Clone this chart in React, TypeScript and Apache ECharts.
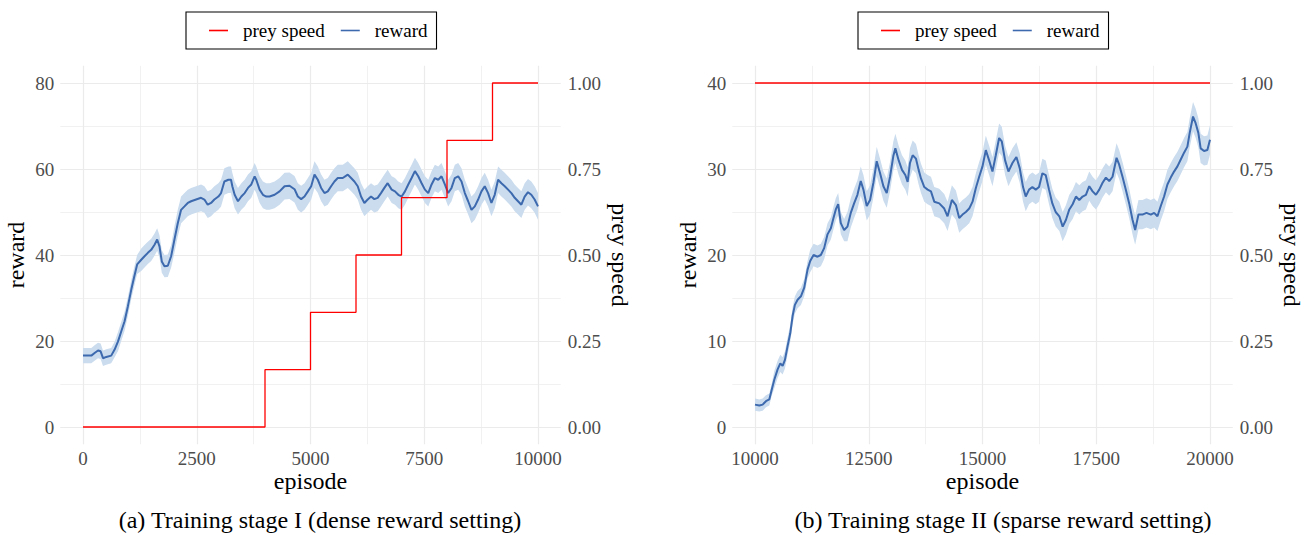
import React, { useEffect, useRef } from "react";
import * as echarts from "echarts";

// ---------- data: stage I (dense reward) ----------
const stage1Episodes = [
  0, 183, 255, 330, 387, 440, 512, 620, 695, 770, 840, 914, 987, 1060, 1118, 1190, 1280, 1352, 1425, 1499,
  1572, 1630, 1681, 1732, 1791, 1864, 1937, 2010, 2083, 2156, 2230, 2303, 2376, 2485, 2595, 2668, 2741, 2814,
  2887, 2975, 3034, 3107, 3195, 3253, 3282, 3333, 3406, 3480, 3553, 3626, 3699, 3772, 3808, 3882, 3955, 4028,
  4101, 4211, 4320, 4430, 4539, 4649, 4722, 4795, 4868, 4942, 5015, 5088, 5161, 5234, 5307, 5380, 5453, 5526,
  5599, 5709, 5819, 5892, 5965, 6038, 6111, 6184, 6257, 6330, 6403, 6476, 6549, 6623, 6696, 6784, 6857, 6930,
  7003, 7076, 7149, 7222, 7295, 7368, 7442, 7515, 7588, 7661, 7734, 7807, 7880, 7953, 8026, 8099, 8172, 8246,
  8319, 8392, 8465, 8538, 8611, 8684, 8757, 8830, 8903, 8976, 9049, 9123, 9196, 9269, 9342, 9415, 9488, 9561,
  9634, 9707, 9780, 9853, 9926, 10000,
];
const stage1Reward = [
  16.6, 16.6, 17.2, 17.8, 17.6, 16.0, 16.3, 16.6, 18.0, 19.9, 22.2, 24.6, 28.1, 31.9, 34.6, 37.8, 38.9, 39.7, 40.5, 41.2,
  42.4, 43.6, 42.0, 38.5, 37.4, 37.5, 39.7, 43.6, 47.4, 50.5, 51.3, 52.1, 52.5, 52.9, 53.3, 52.9, 51.7, 52.1,
  52.9, 53.6, 54.4, 57.1, 57.5, 57.5, 56.0, 54.0, 52.5, 53.6, 54.4, 55.6, 56.4, 58.3, 57.5, 55.2, 54.0, 53.6,
  53.6, 54.0, 54.8, 56.0, 56.1, 55.3, 53.6, 53.0, 53.6, 54.8, 56.0, 58.7, 57.5, 55.6, 54.4, 54.8, 56.0, 57.1,
  57.9, 57.9, 58.7, 57.9, 57.1, 56.0, 53.6, 52.1, 52.9, 53.6, 53.0, 53.3, 54.4, 55.6, 56.7, 55.2, 54.8, 54.0,
  53.6, 54.8, 56.4, 57.9, 59.5, 58.3, 56.7, 55.2, 54.4, 56.4, 57.9, 57.5, 58.3, 56.4, 54.4, 55.6, 57.9, 58.3,
  57.1, 54.4, 52.5, 50.5, 51.3, 52.9, 54.8, 56.0, 54.4, 52.1, 54.0, 57.5, 56.7, 56.0, 55.2, 54.4, 53.3, 52.5,
  51.7, 53.6, 54.6, 54.0, 52.9, 51.3,
];
// [episode from which it applies, half-width of the band]
const stage1Band = [
  [0, 1.8],
  [700, 2.2],
  [1200, 2.6],
  [2000, 3.1],
];
const stage1SpeedEpisodes = [0, 4000, 5000, 6000, 7000, 8000, 9000, 10000];
const stage1Speed = [0, 0.1667, 0.3333, 0.5, 0.6667, 0.8333, 1.0, 1.0];

// ---------- data: stage II (sparse reward) ----------
const stage2Episodes = [
  10000, 10095, 10168, 10241, 10314, 10366, 10424, 10497, 10556, 10607, 10658, 10716, 10775, 10826, 10877, 10936,
  11009, 11082, 11155, 11213, 11287, 11374, 11447, 11520, 11594, 11667, 11725, 11776, 11828, 11886, 11959, 12032,
  12105, 12178, 12251, 12324, 12383, 12456, 12529, 12602, 12675, 12749, 12822, 12895, 12968, 13040, 13085, 13158,
  13231, 13304, 13355, 13406, 13465, 13538, 13596, 13648, 13721, 13794, 13867, 13940, 14050, 14159, 14232, 14327,
  14415, 14488, 14561, 14634, 14708, 14781, 14854, 14927, 15000, 15073, 15146, 15219, 15292, 15365, 15424, 15497,
  15570, 15658, 15745, 15818, 15891, 15950, 16023, 16096, 16170, 16243, 16316, 16389, 16462, 16535, 16608, 16689,
  16762, 16835, 16908, 16981, 17054, 17127, 17200, 17273, 17346, 17420, 17493, 17566, 17639, 17712, 17785, 17858,
  17946, 18004, 18077, 18150, 18224, 18297, 18355, 18428, 18516, 18604, 18699, 18772, 18845, 18918, 18991, 19064,
  19137, 19210, 19284, 19357, 19430, 19503, 19554, 19627, 19686, 19744, 19795, 19869, 19942, 20000,
];
const stage2Reward = [
  2.6, 2.5, 2.6, 3.0, 3.2, 4.3, 5.5, 6.7, 7.4, 7.1, 7.8, 9.4, 10.9, 12.9, 14.2, 14.8,
  15.2, 16.2, 18.3, 19.3, 20.0, 19.8, 20.0, 20.8, 22.4, 23.1, 24.3, 25.3, 25.9, 23.7, 22.9, 23.3,
  24.9, 26.0, 27.0, 28.6, 27.6, 25.7, 26.4, 28.4, 30.9, 29.5, 28.0, 27.2, 29.1, 31.5, 32.4, 31.0,
  29.9, 29.3, 28.5, 30.7, 31.6, 31.2, 29.9, 28.9, 27.9, 27.6, 27.4, 26.2, 26.0, 25.4, 24.5, 26.4,
  25.8, 24.3, 24.7, 25.0, 25.4, 26.2, 27.8, 29.1, 30.3, 32.2, 31.0, 29.7, 31.6, 33.6, 33.2, 31.0,
  29.7, 30.7, 31.4, 30.1, 27.9, 26.8, 27.6, 27.9, 27.6, 27.9, 29.5, 29.3, 27.6, 26.0, 25.0, 24.5,
  23.3, 24.1, 25.3, 25.9, 26.8, 26.4, 26.8, 27.0, 28.0, 27.4, 27.0, 27.6, 28.4, 29.0, 28.6, 29.1,
  31.3, 30.5, 29.1, 27.6, 26.0, 24.1, 22.9, 24.7, 24.7, 24.9, 24.7, 24.9, 24.5, 25.7, 26.8, 28.2,
  29.0, 29.7, 30.3, 31.1, 31.9, 32.6, 34.2, 36.1, 35.3, 34.2, 32.4, 32.1, 32.2, 33.4,
];
const stage2Band = [
  [10000, 0.7],
  [10400, 1.0],
  [11200, 1.3],
  [12000, 1.7],
];
const stage2SpeedEpisodes = [10000, 20000];
const stage2Speed = [1.0, 1.0];

// ---------- ticks ----------
const xTicks1 = [0, 2500, 5000, 7500, 10000];
const xMinor1 = [1250, 3750, 6250, 8750];
const yTicks1 = [0, 20, 40, 60, 80];
const yMinor1 = [10, 30, 50, 70];
const xTicks2 = [10000, 12500, 15000, 17500, 20000];
const xMinor2 = [11250, 13750, 16250, 18750];
const yTicks2 = [0, 10, 20, 30, 40];
const yMinor2 = [5, 15, 25, 35];
const speedTicks = [0, 0.25, 0.5, 0.75, 1.0];

const captions = ["(a) Training stage I (dense reward setting)", "(b) Training stage II (sparse reward setting)"];
const legendNames = ["prey speed", "reward"];

const FONT = "Liberation Serif, serif";
const RED = "#FF0000";
const BLUE = "#3D69AE";
const BAND = "#CADCEE";
const GRID = "#EBEBEB";
const LABEL = "#4D4D4D";

function bandData(eps: number[], vals: number[], segs: number[][]) {
  return eps.map((e, i) => {
    let ci = segs[0][1];
    for (const s of segs) if (e >= s[0]) ci = s[1];
    return [e, vals[i] - ci, vals[i] + ci];
  });
}

function makePanel(
  idx: number,
  eps: number[],
  reward: number[],
  bandSegs: number[][],
  speedEps: number[],
  speed: number[],
  xTicks: number[],
  xMinor: number[],
  yTicks: number[],
  yMinor: number[],
  xMin: number,
  xMax: number,
  yMin: number,
  yMax: number
) {
  const band = bandData(eps, reward, bandSegs);
  const xAxis = {
    type: "value",
    gridIndex: idx,
    min: xMin,
    max: xMax,
    axisLine: { show: false },
    axisTick: { show: false, customValues: xTicks },
    axisLabel: {
      customValues: xTicks,
      color: LABEL,
      fontSize: 19,
      fontFamily: FONT,
      margin: 5,
      formatter: (v: number) => String(v),
    },
    splitLine: { show: true, lineStyle: { color: GRID, width: 1.2 } },
    name: "episode",
    nameLocation: "middle",
    nameGap: 37,
    nameMoveOverlap: false,
    nameTextStyle: { color: "#000", fontSize: 24, fontFamily: FONT, verticalAlign: "middle" },
  };
  const yLeft = {
    type: "value",
    gridIndex: idx,
    position: "left",
    min: yMin,
    max: yMax,
    axisLine: { show: false },
    axisTick: { show: false, customValues: yTicks },
    axisLabel: {
      customValues: yTicks,
      color: LABEL,
      fontSize: 19,
      fontFamily: FONT,
      margin: 6,
      formatter: (v: number) => String(v),
    },
    splitLine: { show: true, lineStyle: { color: GRID, width: 1.2 } },
    name: "reward",
    nameLocation: "middle",
    nameGap: 32,
    nameRotate: 90,
    nameMoveOverlap: false,
    nameTextStyle: { color: "#000", fontSize: 24, fontFamily: FONT },
  };
  const yRight = {
    type: "value",
    gridIndex: idx,
    position: "right",
    min: -0.05,
    max: 1.05,
    axisLine: { show: false },
    axisTick: { show: false, customValues: speedTicks },
    axisLabel: {
      customValues: speedTicks,
      color: LABEL,
      fontSize: 19,
      fontFamily: FONT,
      margin: 7,
      formatter: (v: number) => v.toFixed(2),
    },
    splitLine: { show: false },
    name: "prey speed",
    nameLocation: "middle",
    nameGap: 47,
    nameRotate: -90,
    nameMoveOverlap: false,
    nameTextStyle: { color: "#000", fontSize: 24, fontFamily: FONT },
  };
  const series = [
    {
      type: "custom",
      name: "band" + idx,
      xAxisIndex: idx,
      yAxisIndex: idx * 2,
      coordinateSystem: "cartesian2d",
      silent: true,
      z: 2,
      data: band,
      encode: { x: 0, y: [1, 2] },
      renderItem: (params: any, api: any) => {
        if (params.dataIndex !== 0) return null;
        const pts: number[][] = [];
        for (let i = 0; i < band.length; i++) pts.push(api.coord([band[i][0], band[i][2]]));
        for (let i = band.length - 1; i >= 0; i--) pts.push(api.coord([band[i][0], band[i][1]]));
        return { type: "polygon", shape: { points: pts }, style: { fill: BAND } };
      },
      markLine: {
        silent: true,
        symbol: "none",
        z: 1,
        label: { show: false },
        lineStyle: { color: GRID, width: 0.7, type: "solid" },
        data: [...xMinor.map((v) => ({ xAxis: v })), ...yMinor.map((v) => ({ yAxis: v }))],
      },
    },
    {
      type: "line",
      name: "reward",
      xAxisIndex: idx,
      yAxisIndex: idx * 2,
      showSymbol: false,
      symbol: "none",
      z: 3,
      itemStyle: { color: BLUE },
      lineStyle: { color: BLUE, width: 2 },
      data: eps.map((e, i) => [e, reward[i]]),
    },
    {
      type: "line",
      name: "prey speed",
      xAxisIndex: idx,
      yAxisIndex: idx * 2 + 1,
      showSymbol: false,
      symbol: "none",
      step: "end",
      z: 4,
      itemStyle: { color: RED },
      lineStyle: { color: RED, width: 1.3 },
      data: speedEps.map((e, i) => [e, speed[i]]),
    },
  ];
  return { xAxis, yAxes: [yLeft, yRight], series };
}

export default function App() {
  const ref = useRef<HTMLDivElement>(null);
  useEffect(() => {
    if (!ref.current) return;
    const chart = echarts.init(ref.current, null, { renderer: "svg" });
    const p1 = makePanel(0, stage1Episodes, stage1Reward, stage1Band, stage1SpeedEpisodes, stage1Speed,
      xTicks1, xMinor1, yTicks1, yMinor1, -500, 10500, -4, 84);
    const p2 = makePanel(1, stage2Episodes, stage2Reward, stage2Band, stage2SpeedEpisodes, stage2Speed,
      xTicks2, xMinor2, yTicks2, yMinor2, 9500, 20500, -2, 42);
    const legendBase = {
      orient: "horizontal",
      top: 12,
      padding: [9, 9, 9, 23],
      borderColor: "#000",
      borderWidth: 1.1,
      itemWidth: 19,
      itemHeight: 1.6,
      itemGap: 16,
      icon: "rect",
      selectedMode: false,
      data: legendNames,
      textStyle: { fontSize: 19, fontFamily: FONT, color: "#000", padding: [0, 0, 0, 10] },
    };
    const captionStyle = {
      textAlign: "center",
      textVerticalAlign: "bottom",
      fontSize: 24,
      fontFamily: FONT,
      fill: "#000",
    };
    const option: any = {
      animation: false,
      backgroundColor: "#fff",
      textStyle: { fontFamily: FONT },
      grid: [
        { left: 60.25, top: 65.8, width: 500.5, height: 378.4, outerBoundsMode: "none" },
        { left: 732.25, top: 65.8, width: 500.5, height: 378.4, outerBoundsMode: "none" },
      ],
      legend: [
        { ...legendBase, left: 186 },
        { ...legendBase, left: 858 },
      ],
      xAxis: [p1.xAxis, p2.xAxis],
      yAxis: [...p1.yAxes, ...p2.yAxes],
      series: [...p1.series, ...p2.series],
      graphic: [
        { type: "text", x: 320, y: 532, style: { ...captionStyle, text: captions[0] } },
        { type: "text", x: 1003, y: 532, style: { ...captionStyle, text: captions[1] } },
      ],
    };
    chart.setOption(option);
    return () => chart.dispose();
  }, []);
  return (
    <div
      ref={ref}
      style={{ position: "absolute", left: 0, top: 0, width: 1307, height: 533, background: "#fff" }}
    />
  );
}
